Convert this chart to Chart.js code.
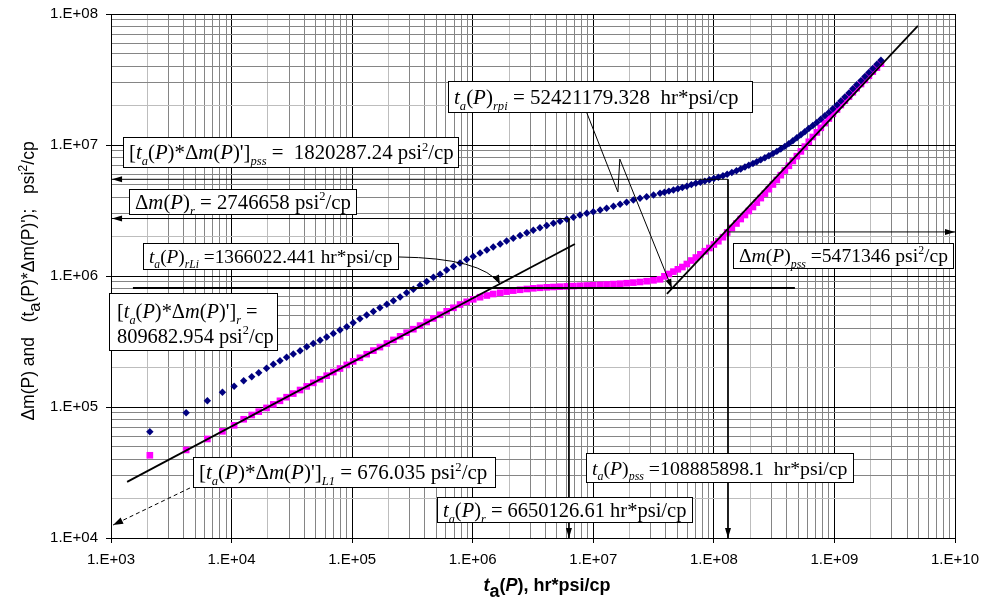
<!DOCTYPE html>
<html>
<head>
<meta charset="utf-8">
<script src="https://cdn.jsdelivr.net/npm/chart.js@4.4.0/dist/chart.umd.min.js"></script>
<style>
    html, body { margin: 0; padding: 0; background: #fff; }
    #wrap { width: 982px; height: 600px; position: relative; }
</style>
</head>
<body>
<div id="wrap"><canvas id="chart"></canvas></div>
<script>
//! pseudo-time t_a(P), hr*psi/cp (same for both series)
var taP = [
    2100, 4200, 6300, 8400, 10500, 12600, 14700, 16800,
    1.95e4, 2.22e4, 2.52e4, 2.86e4, 3.25e4, 3.70e4, 4.20e4, 4.76e4, 5.42e4, 6.15e4,
    6.98e4, 7.93e4, 9.02e4, 1.02e5, 1.16e5, 1.32e5, 1.50e5, 1.70e5, 1.94e5, 2.20e5,
    2.50e5, 2.83e5, 3.22e5, 3.66e5, 4.15e5, 4.72e5, 5.36e5, 6.08e5, 6.92e5, 7.85e5,
    8.91e5, 1.01e6, 1.15e6, 1.31e6, 1.48e6, 1.69e6, 1.91e6, 2.17e6, 2.47e6, 2.81e6,
    3.18e6, 3.61e6, 4.11e6, 4.67e6, 5.30e6, 6.03e6, 6.84e6, 7.76e6, 8.83e6, 1.00e7,
    1.14e7, 1.29e7, 1.47e7, 1.67e7, 1.89e7, 2.15e7, 2.44e7, 2.77e7, 3.16e7, 3.58e7,
    3.89e7, 4.24e7, 4.62e7, 5.03e7, 5.48e7, 5.97e7, 6.51e7, 7.09e7, 7.73e7, 8.42e7,
    9.18e7, 1.00e8, 1.09e8, 1.19e8, 1.29e8, 1.41e8, 1.54e8, 1.67e8,
    1.81e8, 1.95e8, 2.11e8, 2.27e8, 2.45e8, 2.65e8, 2.86e8, 3.09e8, 3.33e8, 3.59e8,
    3.88e8, 4.19e8, 4.52e8, 4.88e8, 5.27e8, 5.68e8, 6.13e8, 6.62e8, 7.15e8, 7.71e8,
    8.33e8, 8.99e8, 9.70e8, 1.05e9, 1.13e9, 1.22e9, 1.32e9, 1.42e9, 1.53e9, 1.66e9,
    1.79e9, 1.93e9, 2.08e9, 2.25e9, 2.43e9
];
//! delta m(P), psi^2/cp
var dmP = [
    6.48e4, 9.05e4, 1.117e5, 1.295e5, 1.439e5, 1.588e5, 1.703e5, 1.827e5,
    1.974e5, 2.118e5, 2.256e5, 2.395e5, 2.538e5, 2.690e5, 2.886e5, 3.053e5, 3.230e5, 3.422e5,
    3.640e5, 3.870e5, 4.094e5, 4.392e5, 4.721e5, 5.039e5, 5.358e5, 5.728e5, 6.090e5, 6.465e5,
    6.911e5, 7.443e5, 7.930e5, 8.507e5, 9.078e5, 9.775e5, 1.030e6, 1.111e6, 1.182e6, 1.257e6,
    1.337e6, 1.409e6, 1.498e6, 1.579e6, 1.665e6, 1.755e6, 1.850e6, 1.940e6, 2.038e6, 2.141e6,
    2.237e6, 2.338e6, 2.430e6, 2.526e6, 2.616e6, 2.709e6, 2.811e6, 2.922e6, 3.010e6, 3.096e6,
    3.190e6, 3.287e6, 3.405e6, 3.526e6, 3.659e6, 3.804e6, 3.918e6, 4.030e6, 4.152e6, 4.278e6,
    4.362e6, 4.447e6, 4.534e6, 4.630e6, 4.738e6, 4.847e6, 4.985e6, 5.100e6, 5.200e6, 5.302e6,
    5.425e6, 5.550e6, 5.678e6, 5.829e6, 5.985e6, 6.167e6, 6.364e6, 6.558e6,
    6.793e6, 6.998e6, 7.224e6, 7.456e6, 7.709e6, 7.985e6, 8.271e6, 8.598e6, 8.935e6, 9.322e6,
    9.757e6, 1.025e7, 1.078e7, 1.135e7, 1.196e7, 1.263e7, 1.335e7, 1.409e7, 1.488e7, 1.573e7,
    1.671e7, 1.774e7, 1.889e7, 2.024e7, 2.171e7, 2.329e7, 2.499e7, 2.685e7, 2.881e7, 3.101e7,
    3.334e7, 3.583e7, 3.843e7, 4.130e7, 4.432e7
];
//! t_a(P)*delta m(P)', psi^2/cp
var dmPDer = [
    4.28e4, 4.70e4, 5.70e4, 6.52e4, 7.25e4, 8.06e4, 8.69e4, 9.21e4,
    9.84e4, 1.047e5, 1.115e5, 1.188e5, 1.266e5, 1.348e5, 1.437e5, 1.528e5, 1.628e5, 1.734e5,
    1.847e5, 1.967e5, 2.096e5, 2.229e5, 2.375e5, 2.530e5, 2.695e5, 2.866e5, 3.053e5, 3.252e5,
    3.465e5, 3.692e5, 3.926e5, 4.182e5, 4.455e5, 4.747e5, 5.056e5, 5.377e5, 5.719e5, 6.058e5,
    6.354e5, 6.639e5, 6.889e5, 7.097e5, 7.288e5, 7.443e5, 7.601e5, 7.735e5, 7.847e5, 7.958e5,
    8.056e5, 8.127e5, 8.198e5, 8.241e5, 8.285e5, 8.329e5, 8.373e5, 8.418e5, 8.462e5, 8.507e5,
    8.566e5, 8.612e5, 8.673e5, 8.733e5, 8.810e5, 8.904e5, 8.998e5, 9.126e5, 9.272e5, 9.436e5,
    9.95e5, 1.036e6, 1.080e6, 1.125e6, 1.171e6, 1.235e6, 1.313e6, 1.384e6, 1.464e6, 1.546e6,
    1.636e6, 1.740e6, 1.843e6, 1.978e6, 2.149e6, 2.325e6, 2.517e6, 2.723e6,
    2.922e6, 3.135e6, 3.363e6, 3.633e6, 3.933e6, 4.256e6, 4.599e6, 4.994e6, 5.405e6, 5.884e6,
    6.388e6, 6.937e6, 7.551e6, 8.212e6, 8.935e6, 9.723e6, 1.058e7, 1.151e7, 1.248e7, 1.353e7,
    1.470e7, 1.593e7, 1.730e7, 1.866e7, 2.020e7, 2.179e7, 2.345e7, 2.526e7, 2.714e7, 2.922e7,
    3.134e7, 3.375e7, 3.633e7, 3.897e7, 4.174e7
];

//! axes
var xDecades = [1e3, 1e4, 1e5, 1e6, 1e7, 1e8, 1e9, 1e10];
var xTickLabels = ['1.E+03', '1.E+04', '1.E+05', '1.E+06', '1.E+07', '1.E+08', '1.E+09', '1.E+10'];
var yDecades = [1e4, 1e5, 1e6, 1e7, 1e8];
var yTickLabels = ['1.E+04', '1.E+05', '1.E+06', '1.E+07', '1.E+08'];
var gridSignificands = [1, 2, 3, 4, 5, 6, 7, 8, 9];

//! straight lines (half slope, unit slope, radial stabilization)
var halfSlopeX = [1.36e3, 7.04e6];
var halfSlopeY = [2.68e4, 1.755e6];
var unitSlopeX = [4.08e7, 4.92e9];
var unitSlopeY = [7.29e5, 8.1e7];
var radialX = [1.52e3, 4.7e8];
var radialY = [809682.954, 809682.954];

//! reference lines with arrows
var pssRefX = [1.02e3, 1.31e8, 1.31e8];
var pssRefY = [5471346, 5471346, 1e4];
var rRefX = [1.02e3, 6.28e6, 6.28e6];
var rRefY = [2746658, 2746658, 1e4];
var pssDerRefX = [1.31e8, 1e10];
var pssDerRefY = [2.17e6, 2.17e6];

//! pointers from the labels
var rpiPtrX = [8.85e6, 1.60e7, 1.66e7, 4.48e7];
var rpiPtrY = [1.754e7, 4.38e6, 7.81e6, 8.1e5];
var rLiPtrX = [2.44e5, 1.19e6, 1.68e6];
var rLiPtrY = [1.397e6, 1.372e6, 8.69e5];
var l1PtrX = [4.52e3, 1.04e3];
var l1PtrY = [2.41e4, 1.256e4];

//! label boxes: text (~italic~, _{sub}, ^{sup}) and rect [left, top, right, bottom]
var boxes = [
    { lines: ["[~t~_{a}(~P~)*Δ~m~(~P~)']_{pss} =  1820287.24 psi^{2}/cp"], rect: [123, 137, 459, 168] },
    { lines: ["Δ~m~(~P~)_{r} = 2746658 psi^{2}/cp"], rect: [129, 189, 357, 215] },
    { lines: ["~t~_{a}(~P~)_{rLi} =1366022.441 hr*psi/cp"], rect: [143, 243, 399, 270] },
    { lines: ["[~t~_{a}(~P~)*Δ~m~(~P~)']_{r} =", "809682.954 psi^{2}/cp"], rect: [109, 293, 278, 351] },
    { lines: ["~t~_{a}(~P~)_{rpi} = 52421179.328  hr*psi/cp"], rect: [448, 81, 753, 113] },
    { lines: ["Δ~m~(~P~)_{pss} =5471346 psi^{2}/cp"], rect: [733, 243, 954, 269] },
    { lines: ["[~t~_{a}(~P~)*Δ~m~(~P~)']_{L1} = 676.035 psi^{2}/cp"], rect: [193, 457, 496, 488] },
    { lines: ["~t~_{a}(~P~)_{pss} =108885898.1  hr*psi/cp"], rect: [586, 453, 854, 483] },
    { lines: ["~t~_{a}(~P~)_{r} = 6650126.61 hr*psi/cp"], rect: [437, 497, 693, 523] }
];

var xTitle = "~t~_{a}(~P~), hr*psi/cp";
var yTitle = "Δm(P) and   (t_{a}(P)*Δm(P)');   psi^{2}/cp";


function pairs(xs, ys) {
    return xs.map(function (x, i) { return { x: x, y: ys[i] }; });
}

function gridValues(decades) {
    var out = [];
    for (var i = 0; i < decades.length - 1; i++) {
        gridSignificands.forEach(function (s) { out.push(decades[i] * s); });
    }
    out.push(decades[decades.length - 1]);
    return out;
}

function significand(v) {
    return v / Math.pow(10, Math.floor(Math.log10(v) + 1e-9));
}

function labelFor(v, decades, labels) {
    for (var i = 0; i < decades.length; i++) {
        if (Math.abs(decades[i] - v) / decades[i] < 1e-9) return labels[i];
    }
    return '';
}

function gridColor(c) {
    if (!c.tick) return '#000';
    var m = significand(c.tick.value);
    if (Math.abs(m - 1) < 1e-6) return '#000000';
    if (Math.abs(m - 2) < 1e-6) return '#bdbdbd';
    return '#858585';
}

function tickColor(c) {
    if (!c.tick) return '#000';
    return Math.abs(significand(c.tick.value) - 1) < 1e-6 ? '#000000' : 'rgba(0,0,0,0)';
}

//! rich text helpers
function parseRich(s) {
    var out = [], buf = '', italic = false, i = 0;
    function flush() { if (buf) { out.push({ t: buf, k: italic ? 'i' : 'n' }); buf = ''; } }
    while (i < s.length) {
        var c = s[i];
        if (c === '~') { flush(); italic = !italic; i++; }
        else if ((c === '_' || c === '^') && s[i + 1] === '{') {
            flush();
            var j = s.indexOf('}', i);
            out.push({ t: s.slice(i + 2, j), k: c === '_' ? 'sub' : 'sup' });
            i = j + 1;
        } else { buf += c; i++; }
    }
    flush();
    return out;
}

function fontFor(k, o) {
    var size = o.size, style = '';
    if (k === 'i') style = 'italic ';
    if (k === 'sub') { size = o.size * o.subScale; style = o.subItalic ? 'italic ' : ''; }
    if (k === 'sup') size = o.size * o.supScale;
    return style + (o.weight || 'normal') + ' ' + size.toFixed(1) + 'px ' + o.family;
}

function richWidth(ctx, segs, o) {
    var w = 0;
    segs.forEach(function (sg) { ctx.font = fontFor(sg.k, o); w += ctx.measureText(sg.t).width; });
    return w;
}

function drawRich(ctx, segs, x, y, o) {
    ctx.textBaseline = 'alphabetic';
    ctx.textAlign = 'left';
    segs.forEach(function (sg) {
        ctx.font = fontFor(sg.k, o);
        var dy = 0;
        if (sg.k === 'sub') dy = o.size * o.subShift;
        if (sg.k === 'sup') dy = -o.size * o.supShift;
        ctx.fillText(sg.t, x, y + dy);
        x += ctx.measureText(sg.t).width;
    });
}

function arrowHead(ctx, x0, y0, x1, y1, len, half) {
    var a = Math.atan2(y1 - y0, x1 - x0);
    var bx = x1 - len * Math.cos(a), by = y1 - len * Math.sin(a);
    ctx.beginPath();
    ctx.moveTo(x1, y1);
    ctx.lineTo(bx + half * Math.sin(a), by - half * Math.cos(a));
    ctx.lineTo(bx - half * Math.sin(a), by + half * Math.cos(a));
    ctx.closePath();
    ctx.fill();
}

var notesPlugin = {
    id: 'notes',
    afterDatasetsDraw: function (chart) {
        var ctx = chart.ctx, sx = chart.scales.x, sy = chart.scales.y, area = chart.chartArea;
        function px(v) { return sx.getPixelForValue(v); }
        function py(v) { return sy.getPixelForValue(v); }
        ctx.save();
        ctx.fillStyle = '#000';
        ctx.strokeStyle = '#000';

        //! arrow tips of the reference lines
        arrowHead(ctx, px(pssRefX[1]), py(pssRefY[1]), px(pssRefX[0]), py(pssRefY[0]), 10, 3);
        arrowHead(ctx, px(pssRefX[1]), py(pssRefY[1]), px(pssRefX[2]), py(pssRefY[2]), 10, 3);
        arrowHead(ctx, px(rRefX[1]), py(rRefY[1]), px(rRefX[0]), py(rRefY[0]), 10, 3);
        arrowHead(ctx, px(rRefX[1]), py(rRefY[1]), px(rRefX[2]), py(rRefY[2]), 10, 3);
        arrowHead(ctx, px(pssDerRefX[0]), py(pssDerRefY[0]), px(pssDerRefX[1]), py(pssDerRefY[1]), 10, 3);

        //! t_a(P)rpi pointer
        ctx.lineWidth = 1;
        ctx.beginPath();
        rpiPtrX.forEach(function (x, i) {
            if (i === 0) ctx.moveTo(px(x), py(rpiPtrY[i])); else ctx.lineTo(px(x), py(rpiPtrY[i]));
        });
        ctx.stroke();
        var n = rpiPtrX.length;
        arrowHead(ctx, px(rpiPtrX[n - 2]), py(rpiPtrY[n - 2]), px(rpiPtrX[n - 1]), py(rpiPtrY[n - 1]), 9, 3);

        //! t_a(P)rLi pointer (curved)
        ctx.beginPath();
        ctx.moveTo(px(rLiPtrX[0]), py(rLiPtrY[0]));
        ctx.quadraticCurveTo(px(rLiPtrX[1]), py(rLiPtrY[1]), px(rLiPtrX[2]), py(rLiPtrY[2]));
        ctx.stroke();
        arrowHead(ctx, px(rLiPtrX[1]) + 8, py(rLiPtrY[1]) + 6, px(rLiPtrX[2]), py(rLiPtrY[2]), 9, 3.5);

        //! L1 pointer (dashed)
        ctx.setLineDash([4, 3]);
        ctx.beginPath();
        ctx.moveTo(px(l1PtrX[0]), py(l1PtrY[0]));
        ctx.lineTo(px(l1PtrX[1]), py(l1PtrY[1]));
        ctx.stroke();
        ctx.setLineDash([]);
        arrowHead(ctx, px(l1PtrX[0]), py(l1PtrY[0]), px(l1PtrX[1]), py(l1PtrY[1]), 10, 3.5);

        //! label boxes
        var serif = { family: '"Liberation Serif", "Times New Roman", serif', size: 19,
            subScale: 0.6, subShift: 0.28, subItalic: true, supScale: 0.6, supShift: 0.42 };
        boxes.forEach(function (b) {
            var r = b.rect, w = r[2] - r[0], h = r[3] - r[1];
            var segsList = b.lines.map(parseRich);
            var base = Object.assign({}, serif, { size: 20 });
            var widest = 0;
            segsList.forEach(function (sg) { widest = Math.max(widest, richWidth(ctx, sg, base)); });
            var size = Math.max(15, Math.min(21, 20 * (w - 12) / widest));
            var o = Object.assign({}, serif, { size: size });
            ctx.fillStyle = '#fff';
            ctx.fillRect(r[0], r[1], w, h);
            ctx.strokeStyle = '#000';
            ctx.lineWidth = 1;
            ctx.strokeRect(r[0] + 0.5, r[1] + 0.5, w - 1, h - 1);
            ctx.fillStyle = '#000';
            if (segsList.length === 1) {
                drawRich(ctx, segsList[0], r[0] + 6, r[1] + h / 2 + size * 0.33, o);
            } else {
                drawRich(ctx, segsList[0], r[0] + 8, r[1] + h * 0.43, o);
                drawRich(ctx, segsList[1], r[0] + 8, r[1] + h * 0.86, o);
            }
        });

        //! axis titles
        var xo = { family: '"Liberation Sans", Arial, sans-serif', size: 18, weight: 'bold',
            subScale: 1, subShift: 0.36, subItalic: false, supScale: 0.75, supShift: 0.4 };
        var xs = parseRich(xTitle);
        var xw = richWidth(ctx, xs, xo);
        drawRich(ctx, xs, 547 - xw / 2, 591, xo);

        var yo = { family: '"Liberation Sans", Arial, sans-serif', size: 17.5,
            subScale: 0.95, subShift: 0.33, subItalic: false, supScale: 0.72, supShift: 0.42 };
        var ysg = parseRich(yTitle);
        var yw = richWidth(ctx, ysg, yo);
        ctx.translate(34, 281);
        ctx.rotate(-Math.PI / 2);
        drawRich(ctx, ysg, -yw / 2, 0, yo);
        ctx.restore();
    }
};

var lineStyle = { showLine: true, borderColor: '#000', pointRadius: 0, fill: false, order: 0 };

var chart = new Chart(document.getElementById('chart').getContext('2d'), {
    type: 'scatter',
    data: {
        datasets: [
            Object.assign({ label: 'half slope', data: pairs(halfSlopeX, halfSlopeY), borderWidth: 1.8 }, lineStyle),
            Object.assign({ label: 'unit slope', data: pairs(unitSlopeX, unitSlopeY), borderWidth: 1.8 }, lineStyle),
            Object.assign({ label: 'radial', data: pairs(radialX, radialY), borderWidth: 2.2 }, lineStyle),
            Object.assign({ label: 'pss ref', data: pairs(pssRefX, pssRefY), borderWidth: 1 }, lineStyle),
            Object.assign({ label: 'r ref', data: pairs(rRefX, rRefY), borderWidth: 1 }, lineStyle),
            Object.assign({ label: 'pss der ref', data: pairs(pssDerRefX, pssDerRefY), borderWidth: 1 }, lineStyle),
            {
                label: 'Δm(P)',
                data: pairs(taP, dmP),
                pointStyle: 'rectRot',
                pointRadius: 3.7,
                backgroundColor: '#000080',
                borderColor: '#000080',
                borderWidth: 0,
                order: 1
            },
            {
                label: "t_a(P)*Δm(P)'",
                data: pairs(taP, dmPDer),
                pointStyle: 'rect',
                pointRadius: 4.7,
                backgroundColor: '#ff00ff',
                borderColor: '#ff00ff',
                borderWidth: 0,
                order: 2
            }
        ]
    },
    options: {
        responsive: true,
        maintainAspectRatio: false,
        animation: false,
        events: [],
        layout: { padding: { top: 14, right: 27, left: 0, bottom: 0 } },
        plugins: { legend: { display: false }, tooltip: { enabled: false } },
        scales: {
            x: {
                type: 'logarithmic',
                position: 'bottom',
                min: 1e3,
                max: 1e10,
                afterBuildTicks: function (s) { s.ticks = gridValues(xDecades).map(function (v) { return { value: v }; }); },
                afterFit: function (s) { s.height = 62; s.paddingLeft = 0; s.paddingRight = 0; },
                grid: { color: gridColor, lineWidth: 1, tickLength: 5, tickColor: tickColor },
                border: { color: '#000', width: 1 },
                ticks: {
                    autoSkip: false, maxRotation: 0, padding: 8, color: '#000',
                    font: { family: '"Liberation Sans", Arial, sans-serif', size: 15 },
                    callback: function (v) { return labelFor(v, xDecades, xTickLabels); }
                }
            },
            y: {
                type: 'logarithmic',
                position: 'left',
                min: 1e4,
                max: 1e8,
                afterBuildTicks: function (s) { s.ticks = gridValues(yDecades).map(function (v) { return { value: v }; }); },
                afterFit: function (s) { s.width = 111; s.paddingTop = 0; s.paddingBottom = 0; },
                grid: { color: gridColor, lineWidth: 1, tickLength: 5, tickColor: tickColor },
                border: { color: '#000', width: 1 },
                ticks: {
                    autoSkip: false, padding: 8, color: '#000',
                    font: { family: '"Liberation Sans", Arial, sans-serif', size: 15 },
                    callback: function (v) { return labelFor(v, yDecades, yTickLabels); }
                }
            }
        }
    },
    plugins: [notesPlugin]
});
</script>
</body>
</html>
